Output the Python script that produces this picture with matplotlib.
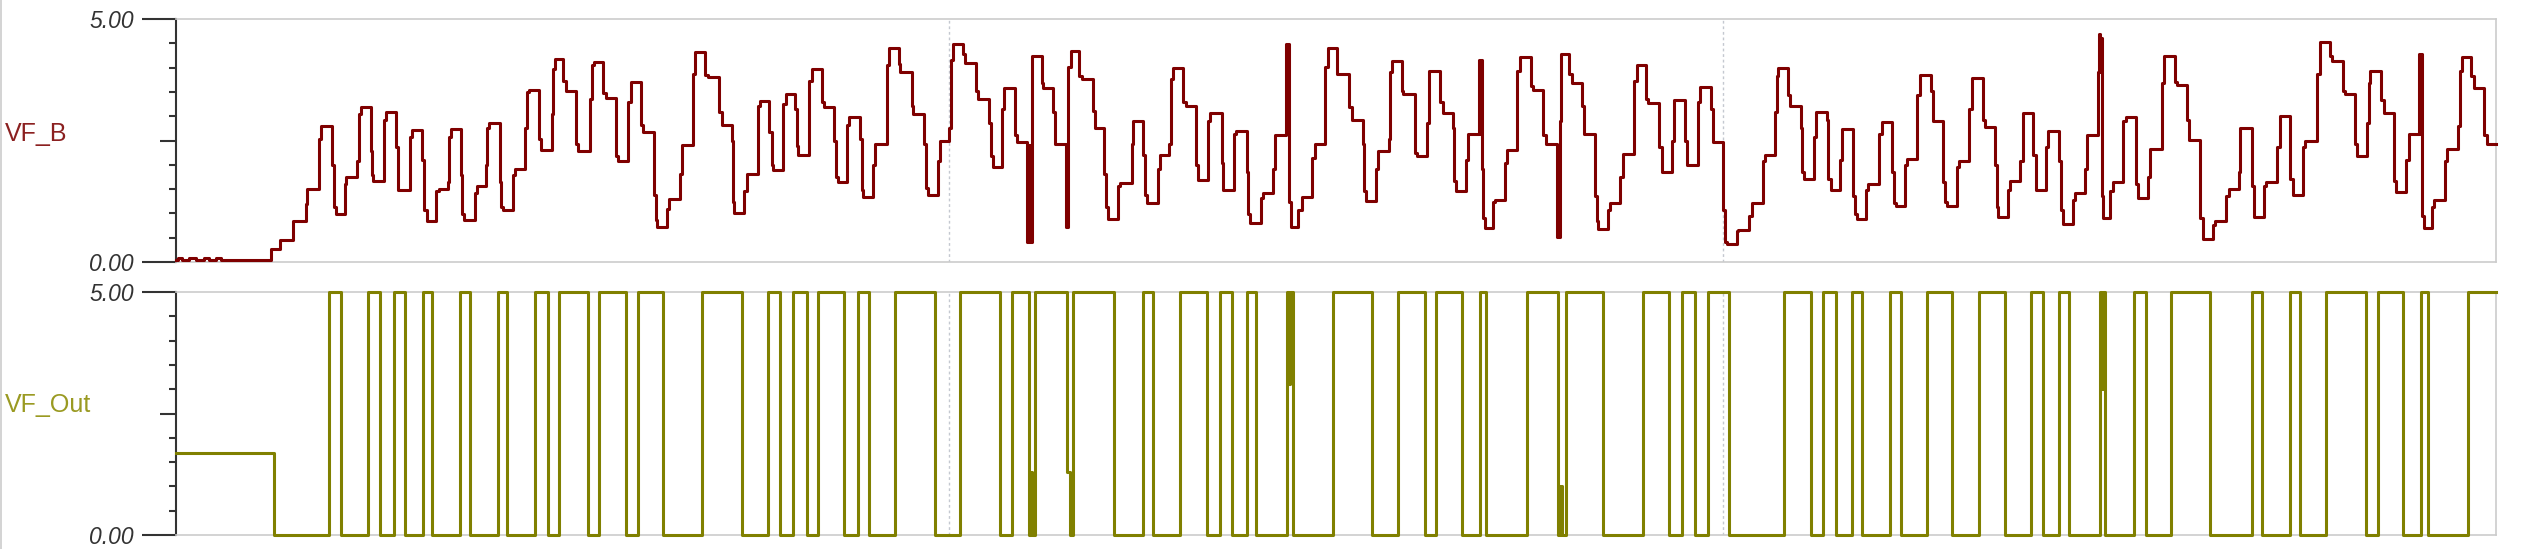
import matplotlib
matplotlib.use("Agg")
import matplotlib.pyplot as plt
from matplotlib.lines import Line2D
from matplotlib.ticker import FixedLocator

# time axis: arbitrary sample units
# VF_B breakpoints (value holds until the next time)
vfb_t = [176, 178, 182, 189, 196, 204, 209, 216, 221,
         271, 280, 293, 306, 307, 319, 321, 332, 334, 336, 345, 346,
         357, 359, 361, 371, 372, 373, 384, 386, 396, 398, 410, 412,
         422, 424, 427, 436, 439, 448, 449, 451, 461, 462, 464, 475, 477,
         486, 487, 489, 500, 501, 503, 513, 515, 525, 527, 529, 539, 541,
         552, 553, 555, 563, 566, 576, 578, 590, 592, 594, 603, 606, 616, 618,
         628, 631, 641, 643, 654, 656, 657, 667, 669, 680, 682, 693, 695,
         705, 708, 719, 722, 732, 733, 734, 744, 747, 758, 760, 769, 772, 773,
         783, 786, 795, 797, 798, 809, 812, 822, 824, 834, 836, 838, 847, 849,
         860, 862, 863, 873, 875, 887, 889, 899, 900, 912, 913, 924, 926, 928,
         938, 940, 949, 951, 953, 963, 965, 976, 978, 989, 991, 993,
         1002, 1004, 1015, 1017, 1027, 1028, 1029, 1030, 1031, 1032,
         1042, 1043, 1053, 1055, 1066, 1068, 1071, 1079, 1082, 1093, 1095,
         1104, 1106, 1108, 1118, 1120, 1132, 1133, 1143, 1145, 1147, 1158, 1160,
         1169, 1171, 1173, 1183, 1186, 1196, 1198, 1208, 1210, 1222, 1223,
         1234, 1236, 1247, 1248, 1250, 1261, 1263, 1273, 1275,
         1286, 1287, 1288, 1289, 1291, 1298, 1302, 1312, 1315, 1325, 1328,
         1337, 1349, 1352, 1363, 1364, 1366, 1376, 1378, 1389, 1390, 1392,
         1402, 1403, 1415, 1417, 1427, 1429, 1440, 1443, 1453, 1454, 1456,
         1466, 1468, 1479, 1480, 1481, 1482, 1483, 1485, 1493, 1495, 1505, 1507,
         1517, 1520, 1531, 1533, 1543, 1546, 1557, 1558, 1559, 1560, 1561,
         1569, 1572, 1582, 1584, 1595, 1597, 1598, 1608, 1610, 1620, 1623,
         1634, 1637, 1646, 1648, 1659, 1662, 1672, 1674, 1685, 1687, 1698, 1700,
         1711, 1713, 1723, 1725, 1727, 1737, 1738, 1749, 1752, 1763, 1765,
         1775, 1777, 1778, 1788, 1790, 1801, 1802, 1804, 1814, 1816,
         1827, 1828, 1831, 1840, 1842, 1853, 1855, 1857, 1866, 1868, 1879, 1882,
         1892, 1894, 1896, 1905, 1907, 1917, 1920, 1931, 1933, 1943, 1945, 1947,
         1957, 1959, 1969, 1972, 1983, 1985, 1995, 1997, 1998, 2008, 2010,
         2020, 2023, 2033, 2036, 2046, 2048, 2059, 2061, 2063, 2073, 2075,
         2085, 2087, 2098, 2099, 2100, 2101, 2102, 2103, 2110, 2113, 2123, 2126,
         2136, 2138, 2148, 2150, 2162, 2164, 2175, 2177, 2187, 2189, 2200, 2203,
         2213, 2215, 2226, 2229, 2239, 2240, 2252, 2254, 2264, 2266, 2277, 2280,
         2290, 2293, 2303, 2305, 2317, 2320, 2330, 2332, 2343, 2345, 2355, 2357,
         2367, 2369, 2370, 2381, 2384, 2394, 2396, 2406, 2409,
         2419, 2420, 2421, 2422, 2424, 2432, 2434, 2445, 2447,
         2458, 2460, 2462, 2471, 2474, 2484, 2487, 2496]
vfb_v = [0.04, 0.08, 0.04, 0.08, 0.04, 0.08, 0.04, 0.08, 0.04,
         0.27, 0.45, 0.84, 1.20, 1.51, 2.54, 2.79, 2.00, 1.13, 0.99, 1.60, 1.74,
         2.07, 3.04, 3.18, 2.28, 1.78, 1.67, 2.93, 3.08, 2.36, 1.49, 2.57, 2.72,
         2.10, 1.06, 0.84, 1.46, 1.50, 1.64, 2.57, 2.73, 1.78, 0.99, 0.86, 1.42, 1.56,
         2.00, 2.75, 2.86, 1.64, 1.13, 1.06, 1.78, 1.92, 2.75, 3.49, 3.53, 2.54, 2.30,
         3.04, 3.98, 4.17, 3.72, 3.52, 2.43, 2.28, 3.36, 4.05, 4.11, 3.47, 3.38, 2.18, 2.07,
         3.29, 3.71, 2.82, 2.68, 1.38, 0.86, 0.72, 1.10, 1.30, 1.82, 2.41, 3.87, 4.32,
         3.85, 3.80, 3.08, 2.82, 2.50, 1.24, 1.01, 1.46, 1.82, 3.22, 3.31, 2.68, 2.00, 1.90,
         3.26, 3.46, 3.15, 2.39, 2.21, 3.72, 3.98, 3.29, 3.18, 2.50, 1.74, 1.65, 2.82, 2.98,
         2.54, 1.49, 1.33, 2.00, 2.43, 4.05, 4.41, 4.08, 3.90, 3.22, 3.04, 2.43, 1.53, 1.38,
         2.07, 2.50, 2.75, 4.16, 4.49, 4.27, 4.10, 3.51, 3.36, 2.86, 2.18, 1.96,
         3.15, 3.58, 2.61, 2.46, 0.41, 2.40, 0.41, 2.40, 0.41, 4.23,
         3.69, 3.58, 3.08, 2.43, 0.73, 4.01, 4.34, 3.83, 3.76, 3.11, 2.75,
         1.82, 1.13, 0.88, 1.56, 1.62, 2.43, 2.90, 2.21, 1.38, 1.22, 1.92, 2.21,
         2.43, 3.76, 4.00, 3.29, 3.22, 2.00, 1.69, 2.90, 3.06, 2.03, 1.49,
         2.64, 2.69, 1.85, 0.99, 0.81, 1.31, 1.42, 1.92, 2.61,
         4.48, 3.00, 4.48, 1.24, 0.73, 1.06, 1.33, 2.14, 2.43, 4.01, 4.41,
         3.87, 3.18, 2.93, 2.43, 1.46, 1.26, 1.92, 2.28, 2.54, 3.90, 4.14,
         3.51, 3.45, 2.25, 2.18, 2.86, 3.92, 3.29, 3.06, 2.75, 1.67, 1.47,
         2.10, 2.63, 4.16, 2.63, 4.16, 1.92, 0.91, 0.70, 1.24, 1.28, 2.03, 2.30,
         3.94, 4.21, 3.62, 3.54, 2.61, 2.43, 0.52, 2.40, 0.52, 2.90, 4.27,
         3.87, 3.69, 3.22, 2.64, 1.35, 0.84, 0.68, 1.06, 1.22, 1.74, 2.23,
         3.72, 4.05, 3.36, 3.28, 2.36, 1.85, 2.50, 3.33, 2.50, 2.00, 3.29, 3.60,
         3.15, 2.46, 1.06, 0.41, 0.37, 0.63, 0.66, 0.95, 1.22, 2.07, 2.21,
         3.08, 3.83, 4.00, 3.44, 3.22, 2.75, 1.85, 1.71, 2.57, 3.09,
         2.93, 1.71, 1.49, 2.10, 2.73, 1.35, 0.99, 0.88, 1.49, 1.60, 2.64, 2.88,
         1.85, 1.22, 1.15, 2.00, 2.12, 3.44, 3.85, 3.51, 2.90, 1.64, 1.24, 1.15,
         1.96, 2.08, 3.15, 3.78, 2.93, 2.77, 2.00, 1.13, 0.93, 1.49, 1.67,
         2.07, 3.06, 2.21, 1.49, 2.36, 2.69, 2.07, 1.06, 0.79, 1.28, 1.42,
         1.92, 2.61, 3.90, 4.70, 3.90, 4.60, 1.35, 0.91, 1.46, 1.64, 2.90, 2.98,
         1.60, 1.31, 1.74, 2.32, 3.69, 4.24, 3.71, 3.64, 2.93, 2.51, 0.91, 0.48,
         0.77, 0.84, 1.35, 1.51, 1.85, 2.75, 1.56, 0.93, 1.56, 1.65, 2.36, 3.00,
         1.71, 1.38, 2.36, 2.48, 3.87, 4.52, 4.23, 4.14, 3.51, 3.45, 2.43, 2.18,
         2.86, 3.69, 3.93, 3.33, 3.06, 1.67, 1.44, 2.10, 2.63,
         4.29, 2.63, 4.29, 0.95, 0.70, 1.13, 1.28, 2.07, 2.32,
         2.79, 3.94, 4.21, 3.83, 3.57, 2.61, 2.43, 2.43]

# VF_Out breakpoints
out_t = [176, 274, 329, 341, 368, 380, 394, 405, 423, 432, 460, 470, 498, 507,
         535, 548, 559, 588, 599, 626, 638, 663, 702, 742, 768, 780, 793, 807,
         818, 844, 858, 869, 895, 935, 960, 1000, 1012, 1029, 1031, 1032, 1035,
         1067, 1070, 1073, 1114, 1143, 1153, 1180, 1207, 1220, 1232, 1247, 1256,
         1287, 1289, 1290, 1293, 1333, 1372, 1398, 1425, 1436, 1462, 1480, 1486,
         1527, 1558, 1559, 1560, 1561, 1562, 1566, 1603, 1643, 1669, 1682, 1695,
         1708, 1729, 1784, 1811, 1823, 1836, 1852, 1862, 1890, 1901, 1927, 1952,
         1979, 2005, 2031, 2043, 2059, 2069, 2100, 2102, 2103, 2105, 2134, 2146,
         2171, 2210, 2252, 2262, 2290, 2300, 2326, 2366, 2378, 2403, 2421, 2428,
         2468, 2496]
out_v = [1.69, 0, 5, 0, 5, 0, 5, 0, 5, 0, 5, 0, 5, 0,
         5, 0, 5, 0, 5, 0, 5, 0, 5, 0, 5, 0, 5, 0,
         5, 0, 5, 0, 5, 0, 5, 0, 5, 0, 1.3, 0, 5,
         1.3, 0, 5, 0, 5, 0, 5, 0, 5, 0, 5, 0,
         5, 3.1, 5, 0, 5, 0, 5, 0, 5, 0, 5, 0,
         5, 0, 1.0, 0, 1.0, 0, 5, 0, 5, 0, 5, 0,
         5, 0, 5, 0, 5, 0, 5, 0, 5, 0, 5, 0,
         5, 0, 5, 0, 5, 0, 5, 3.0, 5, 0, 5, 0,
         5, 0, 5, 0, 5, 0, 5, 0, 5, 0, 5, 0,
         5, 5]

cursor_t = [949, 1723]

signals = [("VF_B", vfb_t, vfb_v, "#7f0000", "#8b2020"),
           ("VF_Out", out_t, out_v, "#808000", "#9a9a22")]

W, H = 2547, 549
fig = plt.figure(figsize=(W / 100, H / 100), dpi=100)
# pixel boxes of the two panels (left, top, right, bottom)
boxes = [(176, 19, 2496, 262), (176, 292, 2496, 535)]
label_y = [134, 405]
fonts = ["Liberation Sans", "DejaVu Sans"]

for (name, t, v, col, lcol), (l, tp, r, b), ly in zip(signals, boxes, label_y):
    ax = fig.add_axes([l / W, 1 - b / H, (r - l) / W, (b - tp) / H])
    ax.plot(t, v, drawstyle="steps-post", color=col, lw=2.2, clip_on=False, zorder=3)
    for c in cursor_t:
        ax.axvline(c, color="#c4c8d0", lw=1.0, ls=(0, (2, 2)), zorder=1)
    ax.set_xlim(l, r)
    ax.set_ylim(0, 5)
    for s in ["top", "bottom", "right"]:
        ax.spines[s].set_color("#cccccc")
        ax.spines[s].set_linewidth(1.2)
    ax.spines["left"].set_color("#333333")
    ax.spines["left"].set_linewidth(1.5)
    ax.set_xticks([])
    ax.set_yticks([0, 2.5, 5])
    ax.set_yticklabels(["0.00", "", "5.00"], fontstyle="italic",
                       family=fonts, fontsize=16.5, color="#333333")
    ax.yaxis.set_minor_locator(FixedLocator([0.5, 1, 1.5, 2, 3, 3.5, 4, 4.5]))
    ax.tick_params(axis="y", which="major", length=24.5, width=1.5, color="#333333", pad=6)
    ax.tick_params(axis="y", which="minor", length=5, width=1.5, color="#333333")
    # the middle tick is half length
    ax.yaxis.get_major_ticks()[1].tick1line.set_markersize(11.5)
    fig.text(5 / W, 1 - ly / H, name, ha="left", va="center", fontsize=18,
             family=fonts, color=lcol)

fig.add_artist(Line2D([0.0003, 0.0003], [0, 1], transform=fig.transFigure,
                      color="#cccccc", lw=1.2))
fig.savefig("out.png", dpi=100)
